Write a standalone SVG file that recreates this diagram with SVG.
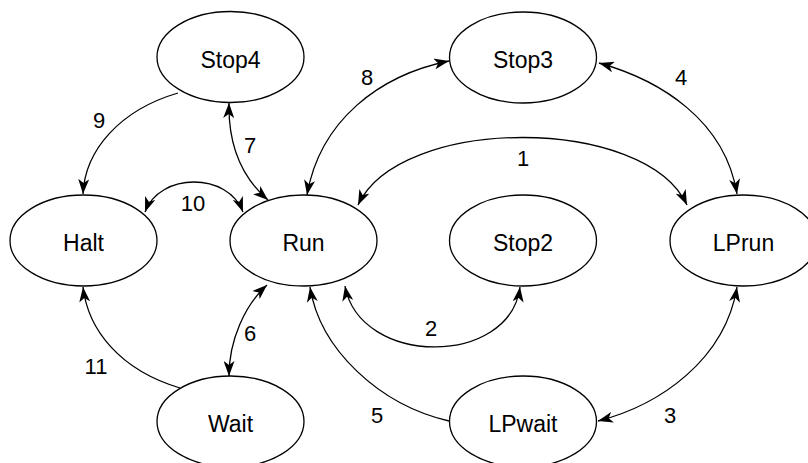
<svg xmlns="http://www.w3.org/2000/svg" width="808" height="463" viewBox="0 0 808 463">
<style>
.node ellipse{fill:#ffffff;stroke:#000000;stroke-width:1.3}
.node text{font-family:"Liberation Sans",Arial,sans-serif;font-size:23px;fill:#000000;text-anchor:middle}
.edges path{fill:none;stroke:#000000;stroke-width:1.3}
.lbl{font-family:"Liberation Sans",Arial,sans-serif;font-size:22px;fill:#000000;text-anchor:middle}
</style>
<defs>
<marker id="arr" viewBox="0 0 15 11" refX="15" refY="5.5" markerWidth="15" markerHeight="11" markerUnits="userSpaceOnUse" orient="auto-start-reverse">
<path d="M0,0 L15,5.5 L0,11 L4,5.5 Z" fill="#000000" stroke="none"/>
</marker>
</defs>
<rect width="808" height="463" fill="#ffffff"/>
<g id="Stop4" class="node"><ellipse cx="230.5" cy="57" rx="73.5" ry="45.5"/><text x="230.5" y="68">Stop4</text></g>
<g id="Stop3" class="node"><ellipse cx="523" cy="57.5" rx="73.5" ry="45.5"/><text x="523" y="68">Stop3</text></g>
<g id="Halt" class="node"><ellipse cx="83.5" cy="240.5" rx="73.5" ry="45.5"/><text x="83.5" y="251">Halt</text></g>
<g id="Run" class="node"><ellipse cx="303.5" cy="240.5" rx="73.5" ry="45.5"/><text x="303.5" y="251">Run</text></g>
<g id="Stop2" class="node"><ellipse cx="523" cy="240.5" rx="73.5" ry="45.5"/><text x="523" y="251">Stop2</text></g>
<g id="LPrun" class="node"><ellipse cx="743.5" cy="240.5" rx="73.5" ry="45.5"/><text x="743.5" y="251">LPrun</text></g>
<g id="Wait" class="node"><ellipse cx="230.5" cy="421.5" rx="73.5" ry="45.5"/><text x="230.5" y="432">Wait</text></g>
<g id="LPwait" class="node"><ellipse cx="523" cy="421.5" rx="73.5" ry="45.5"/><text x="523" y="432">LPwait</text></g>
<g id="connectors" class="edges">
<path d="M307,195 C320,120 380,75 449,61" marker-start="url(#arr)" marker-end="url(#arr)"/>
<path d="M599,63 C660,80 725,120 737,194" marker-start="url(#arr)" marker-end="url(#arr)"/>
<path d="M358,205 C400,115 645,115 687,205" marker-start="url(#arr)" marker-end="url(#arr)"/>
<path d="M145,212 C160,172 228,172 243,212" marker-start="url(#arr)" marker-end="url(#arr)"/>
<path d="M229,103 C228,150 245,180 268,200" marker-start="url(#arr)" marker-end="url(#arr)"/>
<path d="M178,93 C120,110 85,150 83,194" marker-end="url(#arr)"/>
<path d="M267,285 C245,305 229,340 229,376" marker-start="url(#arr)" marker-end="url(#arr)"/>
<path d="M180,388 C120,370 88,330 83,287" marker-end="url(#arr)"/>
<path d="M449,421 C380,405 320,350 310,287" marker-end="url(#arr)"/>
<path d="M345,286 C360,367 510,367 520,287" marker-start="url(#arr)" marker-end="url(#arr)"/>
<path d="M737,287 C725,360 660,405 598,421" marker-start="url(#arr)" marker-end="url(#arr)"/>
</g>
<g id="labels">
<text class="lbl" x="367" y="85">8</text>
<text class="lbl" x="681" y="85">4</text>
<text class="lbl" x="523" y="166">1</text>
<text class="lbl" x="99" y="128">9</text>
<text class="lbl" x="250" y="153">7</text>
<text class="lbl" x="193" y="211">10</text>
<text class="lbl" x="250" y="341">6</text>
<text class="lbl" x="96" y="374">11</text>
<text class="lbl" x="377" y="423">5</text>
<text class="lbl" x="431" y="336">2</text>
<text class="lbl" x="670" y="423">3</text>
</g>
</svg>
